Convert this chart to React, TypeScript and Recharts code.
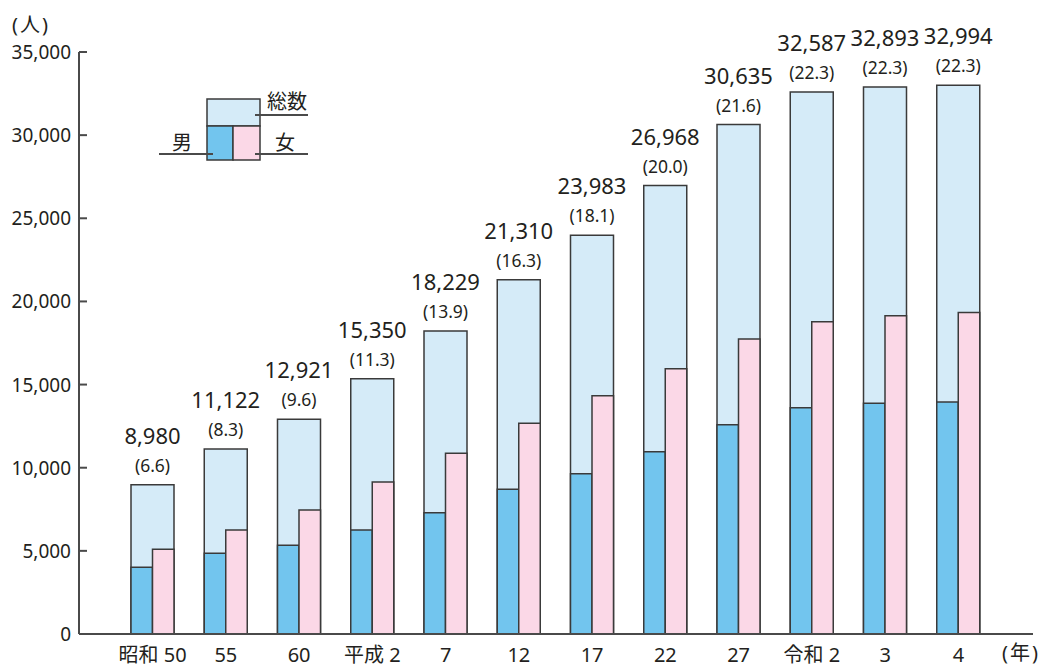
import { BarChart, Bar, XAxis, YAxis, LabelList } from "recharts";

const YEARS = ["昭和 50", "55", "60", "平成 2", "7", "12", "17", "22", "27", "令和 2", "3", "4"];
const TOTAL = [8980, 11122, 12921, 15350, 18229, 21310, 23983, 26968, 30635, 32587, 32893, 32994];
const RATIO = [6.6, 8.3, 9.6, 11.3, 13.9, 16.3, 18.1, 20.0, 21.6, 22.3, 22.3, 22.3];
const MALE = [4010, 4850, 5330, 6250, 7290, 8700, 9640, 10960, 12590, 13610, 13870, 13950];
const FEMALE = [5090, 6250, 7460, 9140, 10870, 12670, 14330, 15950, 17740, 18780, 19140, 19340];
const Y_TICKS = [0, 5000, 10000, 15000, 20000, 25000, 30000, 35000];

const data = YEARS.map((year, i) => ({
  year,
  total: TOTAL[i],
  male: MALE[i],
  female: FEMALE[i],
}));

const FONT = '"Noto Sans", "Noto Sans CJK JP", sans-serif';
const TEXT = "#231f20";
const AXIS = "#4a4a4a";
const EDGE = "#3a3a3a";
const TOTAL_FILL = "#d5ebf8";
const MALE_FILL = "#72c5ee";
const FEMALE_FILL = "#fbd8e7";

const fmt = (v: number) => v.toLocaleString("en-US");

function YTick(props: any) {
  const { x, y, payload } = props;
  return (
    <g>
      <line x1={x + 8} x2={x + 16} y1={y} y2={y} stroke={AXIS} strokeWidth={2} />
      <text x={x} y={y} textAnchor="end" dominantBaseline="central" fontSize={19} fill={TEXT} fontFamily={FONT}>
        {fmt(payload.value)}
      </text>
    </g>
  );
}

function XTick(props: any) {
  const { x, y, payload } = props;
  return (
    <text x={x} y={y + 12} textAnchor="middle" dominantBaseline="central" fontSize={20} fill={TEXT} fontFamily={FONT}>
      {payload.value}
    </text>
  );
}

function TotalLabel(props: any) {
  const { x, y, width, index, value } = props;
  const cx = x + width / 2;
  return (
    <g fontFamily={FONT} fill={TEXT} textAnchor="middle">
      <text x={cx} y={y - 50} dominantBaseline="central" fontSize={22}>
        {fmt(value)}
      </text>
      <text x={cx} y={y - 20} dominantBaseline="central" fontSize={17.5}>
        ({RATIO[index].toFixed(1)})
      </text>
    </g>
  );
}

function LegendKey() {
  return (
    <svg width={1045} height={666} style={{ position: "absolute", left: 0, top: 0, pointerEvents: "none" }}>
      <g stroke={EDGE} strokeWidth={1.5}>
        <rect x={207} y={99} width={53} height={27} fill={TOTAL_FILL} />
        <rect x={207} y={126} width={26} height={34} fill={MALE_FILL} />
        <rect x={233} y={126} width={27} height={34} fill={FEMALE_FILL} />
        <line x1={255} x2={308} y1={115} y2={115} strokeWidth={2} stroke={AXIS} />
        <line x1={159} x2={213} y1={154} y2={154} strokeWidth={2} stroke={AXIS} />
        <line x1={255} x2={308} y1={154} y2={154} strokeWidth={2} stroke={AXIS} />
      </g>
      <g fontFamily={FONT} fill={TEXT} fontSize={20} dominantBaseline="central">
        <text x={267} y={101}>総数</text>
        <text x={172} y={142}>男</text>
        <text x={275} y={142}>女</text>
      </g>
      <g fontFamily={FONT} fill={TEXT} fontSize={20} dominantBaseline="central" letterSpacing={2}>
        <text x={12} y={24}>(人)</text>
        <text x={1002} y={652}>(年)</text>
      </g>
    </svg>
  );
}

export default function App() {
  return (
    <div style={{ position: "absolute", left: 0, top: 0, width: 1045, height: 666, background: "#fff" }}>
      <BarChart
        width={1045}
        height={666}
        data={data}
        margin={{ top: 52, right: 12, bottom: 4, left: 0 }}
        barGap={0}
      >
        <XAxis xAxisId="mf" dataKey="year" hide height={0} padding={{ left: 37, right: 38 }} />
        <XAxis
          xAxisId="total"
          dataKey="year"
          height={28}
          padding={{ left: 37, right: 38 }}
          axisLine={{ stroke: AXIS, strokeWidth: 2 }}
          tickLine={false}
          tick={<XTick />}
          interval={0}
        />
        <YAxis
          domain={[0, 35000]}
          ticks={Y_TICKS}
          width={79}
          tickSize={0}
          tickMargin={8}
          axisLine={{ stroke: AXIS, strokeWidth: 2 }}
          tickLine={false}
          tick={<YTick />}
          interval={0}
        />
        <Bar
          xAxisId="total"
          dataKey="total"
          barSize={43}
          fill={TOTAL_FILL}
          stroke={EDGE}
          strokeWidth={1.5}
          isAnimationActive={false}
        >
          <LabelList dataKey="total" content={<TotalLabel />} />
        </Bar>
        <Bar
          xAxisId="mf"
          dataKey="male"
          barSize={21.5}
          fill={MALE_FILL}
          stroke={EDGE}
          strokeWidth={1.5}
          isAnimationActive={false}
        />
        <Bar
          xAxisId="mf"
          dataKey="female"
          barSize={21.5}
          fill={FEMALE_FILL}
          stroke={EDGE}
          strokeWidth={1.5}
          isAnimationActive={false}
        />
      </BarChart>
      <LegendKey />
    </div>
  );
}
